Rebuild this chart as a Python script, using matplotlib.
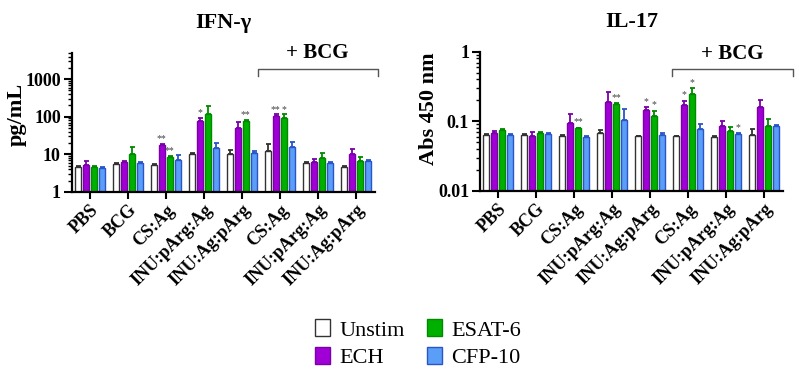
import numpy as np
import matplotlib
matplotlib.use("Agg")
import matplotlib.pyplot as plt
from matplotlib.ticker import FuncFormatter, LogLocator, FixedLocator
from matplotlib.patches import Patch

plt.rcParams['font.family'] = ['Liberation Serif', 'DejaVu Serif']

### DATA
groups = ["PBS", "BCG", "CS:Ag", "INU:pArg:Ag", "INU:Ag:pArg",
          "CS:Ag", "INU:pArg:Ag", "INU:Ag:pArg"]
stims = ["Unstim", "ECH", "ESAT-6", "CFP-10"]

# IFN-gamma (pg/mL): bar means and upper error-bar tops
ifn_mean = {
    "Unstim": [4.6, 5.5, 5.3, 10, 10, 12, 5.8, 4.6],
    "ECH":    [5.3, 6.3, 18, 78, 50, 105, 6.3, 10],
    "ESAT-6": [4.6, 10.5, 8.5, 122, 78, 90, 8.0, 6.5],
    "CFP-10": [4.4, 5.8, 7.3, 15, 11, 15.5, 5.8, 6.5],
}
ifn_top = {
    "Unstim": [4.8, 5.8, 5.5, 10.8, 13, 19, 6.3, 4.9],
    "ECH":    [6.8, 6.8, 19, 95, 72, 115, 7.5, 14],
    "ESAT-6": [4.9, 16, 9.0, 195, 82, 115, 11, 8.5],
    "CFP-10": [4.6, 6.1, 9.5, 20, 12, 22, 6.3, 7.3],
}
ifn_yticks = [1, 10, 100, 1000]
ifn_stars = [("ECH", 2, "**"), ("ESAT-6", 2, "**"), ("ECH", 3, "*"),
             ("ESAT-6", 4, "**"), ("ECH", 5, "**"), ("ESAT-6", 5, "*")]

# IL-17 (Abs 450 nm)
il_mean = {
    "Unstim": [0.064, 0.064, 0.062, 0.067, 0.061, 0.061, 0.059, 0.063],
    "ECH":    [0.069, 0.062, 0.095, 0.19, 0.144, 0.174, 0.085, 0.16],
    "ESAT-6": [0.075, 0.069, 0.079, 0.18, 0.12, 0.25, 0.072, 0.085],
    "CFP-10": [0.064, 0.065, 0.059, 0.103, 0.064, 0.078, 0.066, 0.085],
}
il_top = {
    "Unstim": [0.066, 0.065, 0.063, 0.074, 0.062, 0.062, 0.061, 0.077],
    "ECH":    [0.073, 0.070, 0.128, 0.26, 0.160, 0.198, 0.100, 0.200],
    "ESAT-6": [0.077, 0.071, 0.081, 0.182, 0.142, 0.30, 0.082, 0.107],
    "CFP-10": [0.066, 0.067, 0.061, 0.15, 0.068, 0.092, 0.068, 0.088],
}
il_yticks = [0.01, 0.1, 1]
il_stars = [("ESAT-6", 2, "**"), ("ESAT-6", 3, "**"), ("ECH", 4, "*"),
            ("ESAT-6", 4, "*"), ("ECH", 5, "*"), ("ESAT-6", 5, "*"),
            ("CFP-10", 6, "*")]

fills = {"Unstim": "white", "ECH": "#a000d6", "ESAT-6": "#00b000", "CFP-10": "#5a9ef8"}
edges = {"Unstim": "#333333", "ECH": "#7a00a8", "ESAT-6": "#008a00", "CFP-10": "#2a55c8"}

PITCH = 0.21
WIDTH = 0.16


def draw_panel(ax, means, tops, stars, ylim, yticks, ylabel, label_xy, title, bracket):
    x = np.arange(len(groups))
    for i, s in enumerate(stims):
        xs = x + (i - 1.5) * PITCH
        m = np.array(means[s])
        t = np.array(tops[s])
        ax.bar(xs, m, width=WIDTH, color=fills[s], edgecolor=edges[s], linewidth=1.0, zorder=2)
        ax.errorbar(xs, m, yerr=[np.zeros_like(m), t - m], fmt='none',
                    ecolor=edges[s], elinewidth=1.3, capsize=1.8, capthick=1.3, zorder=3)
    for s, g, txt in stars:
        i = stims.index(s)
        ax.text(g + (i - 1.5) * PITCH, tops[s][g] * 1.04, txt, ha='center', va='bottom',
                fontsize=7, color='#444444')

    ax.set_yscale('log')
    ax.yaxis.set_major_locator(FixedLocator(yticks))
    ax.yaxis.set_minor_locator(LogLocator(base=10, subs=np.arange(2, 10), numticks=30))
    ax.yaxis.set_major_formatter(FuncFormatter(lambda v, p: '%g' % v))
    ax.set_ylim(*ylim)
    ax.set_xlim(-0.47, 7.5)
    ax.set_xticks(x)
    ax.set_xticklabels(groups, rotation=45, ha='right', rotation_mode='anchor',
                       fontsize=13, fontweight='bold')
    for lab in ax.get_yticklabels():
        lab.set_fontweight('bold')
    ax.tick_params(axis='y', which='major', labelsize=13, length=6, width=1.5, pad=2)
    ax.tick_params(axis='y', which='minor', length=3, width=1.0)
    ax.tick_params(axis='x', length=5, width=1.5, pad=2)
    for sp in ['top', 'right']:
        ax.spines[sp].set_visible(False)
    for sp in ['left', 'bottom']:
        ax.spines[sp].set_linewidth(1.6)
    ax.set_ylabel(ylabel, fontsize=16, fontweight='bold')
    ax.yaxis.set_label_coords(*label_xy)
    ax.set_title(title, fontsize=16, fontweight='bold', pad=18)

    # + BCG bracket
    x0, x1, yb, yl, yt = bracket
    tr = ax.get_xaxis_transform()
    ax.plot([x0, x0, x1, x1], [yl, yb, yb, yl], color='#555555', lw=1.0,
            transform=tr, clip_on=False)
    ax.text((x0 + x1) / 2, yt, "+ BCG", ha='center', va='center', transform=tr,
            fontsize=15, fontweight='bold')


fig = plt.figure(figsize=(7.99, 3.75), dpi=100)
ax1 = fig.add_axes([0.090, 0.488, 0.379, 0.371])
ax2 = fig.add_axes([0.601, 0.491, 0.379, 0.371])

draw_panel(ax1, ifn_mean, ifn_top, ifn_stars, (1, 5000), ifn_yticks, "pg/mL", (-0.148, 0.56),
           "IFN-γ", (4.42, 7.58, 0.885, 0.835, 1.0))
draw_panel(ax2, il_mean, il_top, il_stars, (0.01, 1), il_yticks, "Abs 450 nm", (-0.135, 0.59),
           "IL-17", (4.58, 7.76, 0.878, 0.827, 0.986))

handles = [Patch(facecolor=fills[s], edgecolor=edges[s], linewidth=1.0) for s in stims]
fig.legend(handles, stims, loc='center', bbox_to_anchor=(0.523, 0.083), ncol=2,
           frameon=False, fontsize=16, handlelength=0.7, handleheight=0.8,
           handletextpad=0.4, columnspacing=1.0, labelspacing=0.3)

fig.savefig("out.png", dpi=100)
